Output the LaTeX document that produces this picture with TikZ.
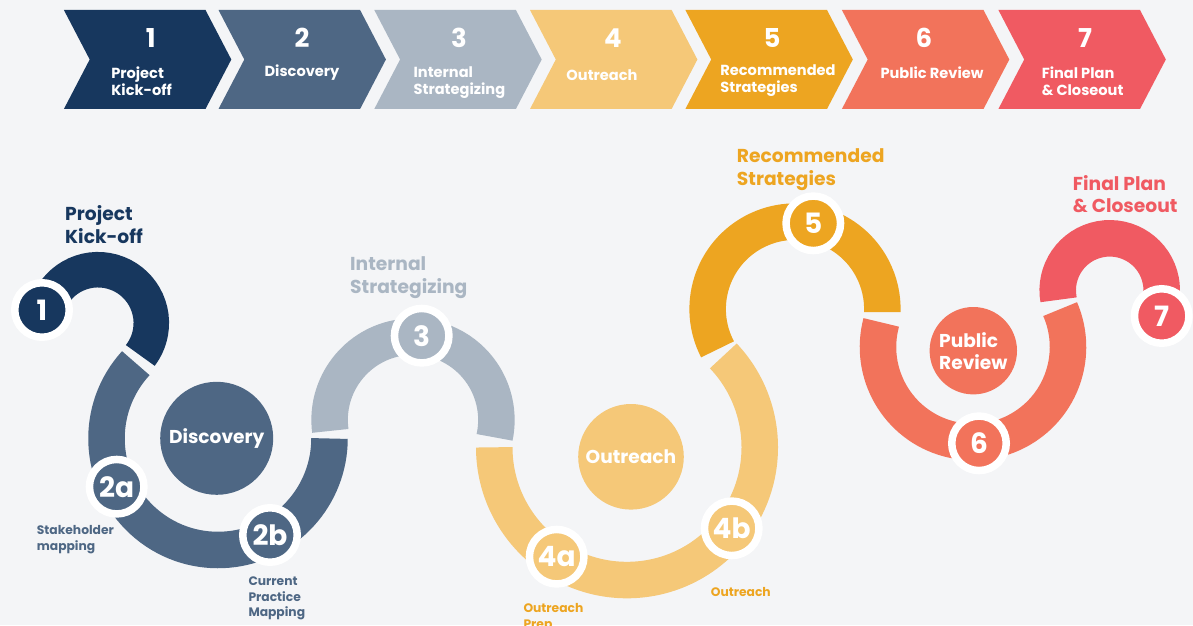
\documentclass[tikz,border=0pt]{standalone}
\usepackage{fontspec}
\setmainfont{Poppins}
\definecolor{cnavy}{HTML}{17375E}
\definecolor{cslate}{HTML}{4E6784}
\definecolor{cgrey}{HTML}{AAB6C3}
\definecolor{clorange}{HTML}{F5C878}
\definecolor{corange}{HTML}{EDA521}
\definecolor{ccoral}{HTML}{F2735B}
\definecolor{cred}{HTML}{F05A62}
\definecolor{cbg}{HTML}{F4F5F7}
\tikzset{
  chevnum/.style={text=white, font=\fontsize{26}{26}\selectfont\bfseries, inner sep=0},
  chevlab/.style={text=white, font=\fontsize{14.6}{17}\selectfont\bfseries, align=left, inner sep=0},
  band/.style={line width=36.5},
  numc/.style={circle, draw=white, line width=7.5, minimum size=54.5, inner sep=0, text=white, font=\fontsize{28}{28}\selectfont\bfseries},
  bigc/.style={circle, inner sep=0, text=white, font=\fontsize{18.6}{22}\selectfont\bfseries, align=left},
  ttl/.style={font=\fontsize{18.7}{22.5}\selectfont\bfseries, align=left, anchor=west, inner sep=0},
  smalllab/.style={font=\fontsize{12.3}{15.4}\selectfont\bfseries, align=left, anchor=west, inner sep=0},
}
\begin{document}
\begin{tikzpicture}[x=1pt,y=1pt]
\useasboundingbox (0,0) rectangle (1193,625);
\fill[cbg] (0,0) rectangle (1193,625);
\clip (0,0) rectangle (1193,625);
% chevrons
\foreach \L/\c in {63.9/cnavy,218.5/cslate,374.3/cgrey,530/clorange,685.4/corange,841.9/ccoral,998.4/cred}{
  \fill[\c] (\L,615) -- ({\L+141.6},615) -- ({\L+167.4},565.5) -- ({\L+141.6},516) -- (\L,516) -- ({\L+25.8},565.5) -- cycle;
}
\node[chevnum] (h1) at (150.8,587) {1};
\node[chevnum] (h2) at (302,587) {2};
\node[chevnum] (h3) at (459,587) {3};
\node[chevnum] (h4) at (613,587) {4};
\node[chevnum] (h5) at (772,587) {5};
\node[chevnum] (h6) at (924,587) {6};
\node[chevnum] (h7) at (1085,587) {7};
\node[chevlab] (l1) at (141.6,544) {Project\\Kick-off};
\node[chevlab] (l2) at (302,552) {Discovery};
\node[chevlab] (l3) at (459.4,542) {Internal\\Strategizing};
\node[chevlab] (l4) at (602,550) {Outreach};
\node[chevlab] (l5) at (778,544) {Recommended\\Strategies};
\node[chevlab] (l6) at (932,552) {Public Review};
\node[chevlab] (l7) at (1082.6,544) {Final Plan\\\& Closeout};
% wave
\draw[band, line width=35.5, cnavy] (98,302) ++(170:53.3) arc[start angle=170, end angle=-37.5, radius=53.3];
\draw[band, cslate] (218,186.5) ++(137.5:111.5) arc[start angle=137.5, end angle=360, radius=111.5];
\draw[band, cgrey] (413,205) ++(187.5:83.4) arc[start angle=187.5, end angle=-12, radius=83.4];
\draw[band, clorange] (627,177.7) ++(180:132.75) arc[start angle=180, end angle=403.5, radius=132.75];
\draw[band, corange] (795,316) ++(207.5:87.35) arc[start angle=207.5, end angle=-2, radius=87.35];
\draw[band, ccoral] (973,278) ++(165:95) arc[start angle=165, end angle=383.5, radius=95];
\draw[band, cred] (1109.7,334.7) ++(190.5:52) arc[start angle=190.5, end angle=-20, radius=52];
% big circles
\node[bigc, fill=cslate, minimum size=113] (disc) at (216.7,186.7) {Discovery};
\node[bigc, fill=clorange, minimum size=105.6] (outr) at (631,168.2) {Outreach};
\node[bigc, fill=ccoral, minimum size=87.4] (prev) at (973.3,274.3) {Public\\Review};
% numbered circles
\node[numc, fill=cnavy] (c1) at (42,315) {1};
\node[numc, fill=cslate] (c2a) at (116.7,138.3) {2a};
\node[numc, fill=cslate] (c2b) at (270,90) {2b};
\node[numc, fill=cgrey] (c3) at (421.7,289.3) {3};
\node[numc, fill=clorange] (c4a) at (556.7,68.3) {4a};
\node[numc, fill=clorange] (c4b) at (731.7,96.7) {4b};
\node[numc, fill=corange] (c5) at (813.3,401.7) {5};
\node[numc, fill=ccoral] (c6) at (979,181.7) {6};
\node[numc, fill=cred] (c7) at (1161.7,309) {7};
% titles
\node[ttl, text=cnavy] (t1) at (65,400.5) {Project\\Kick-off};
\node[ttl, text=cgrey] (t3) at (350,347.5) {Internal\\Strategizing};
\node[ttl, text=corange] (t5) at (736.7,455.5) {Recommended\\Strategies};
\node[ttl, text=cred] (t7) at (1072.7,431) {Final Plan\\\& Closeout};
% small labels
\node[smalllab, text=cslate] (s2a) at (36.7,85.5) {Stakeholder\\mapping};
\node[smalllab, text=cslate] (s2b) at (248.3,26.5) {Current\\Practice\\Mapping};
\node[smalllab, text=corange] (s4a) at (523.3,7.5) {Outreach\\Prep};
\node[smalllab, text=corange] (s4b) at (710.7,33) {Outreach};
\end{tikzpicture}
\end{document}
